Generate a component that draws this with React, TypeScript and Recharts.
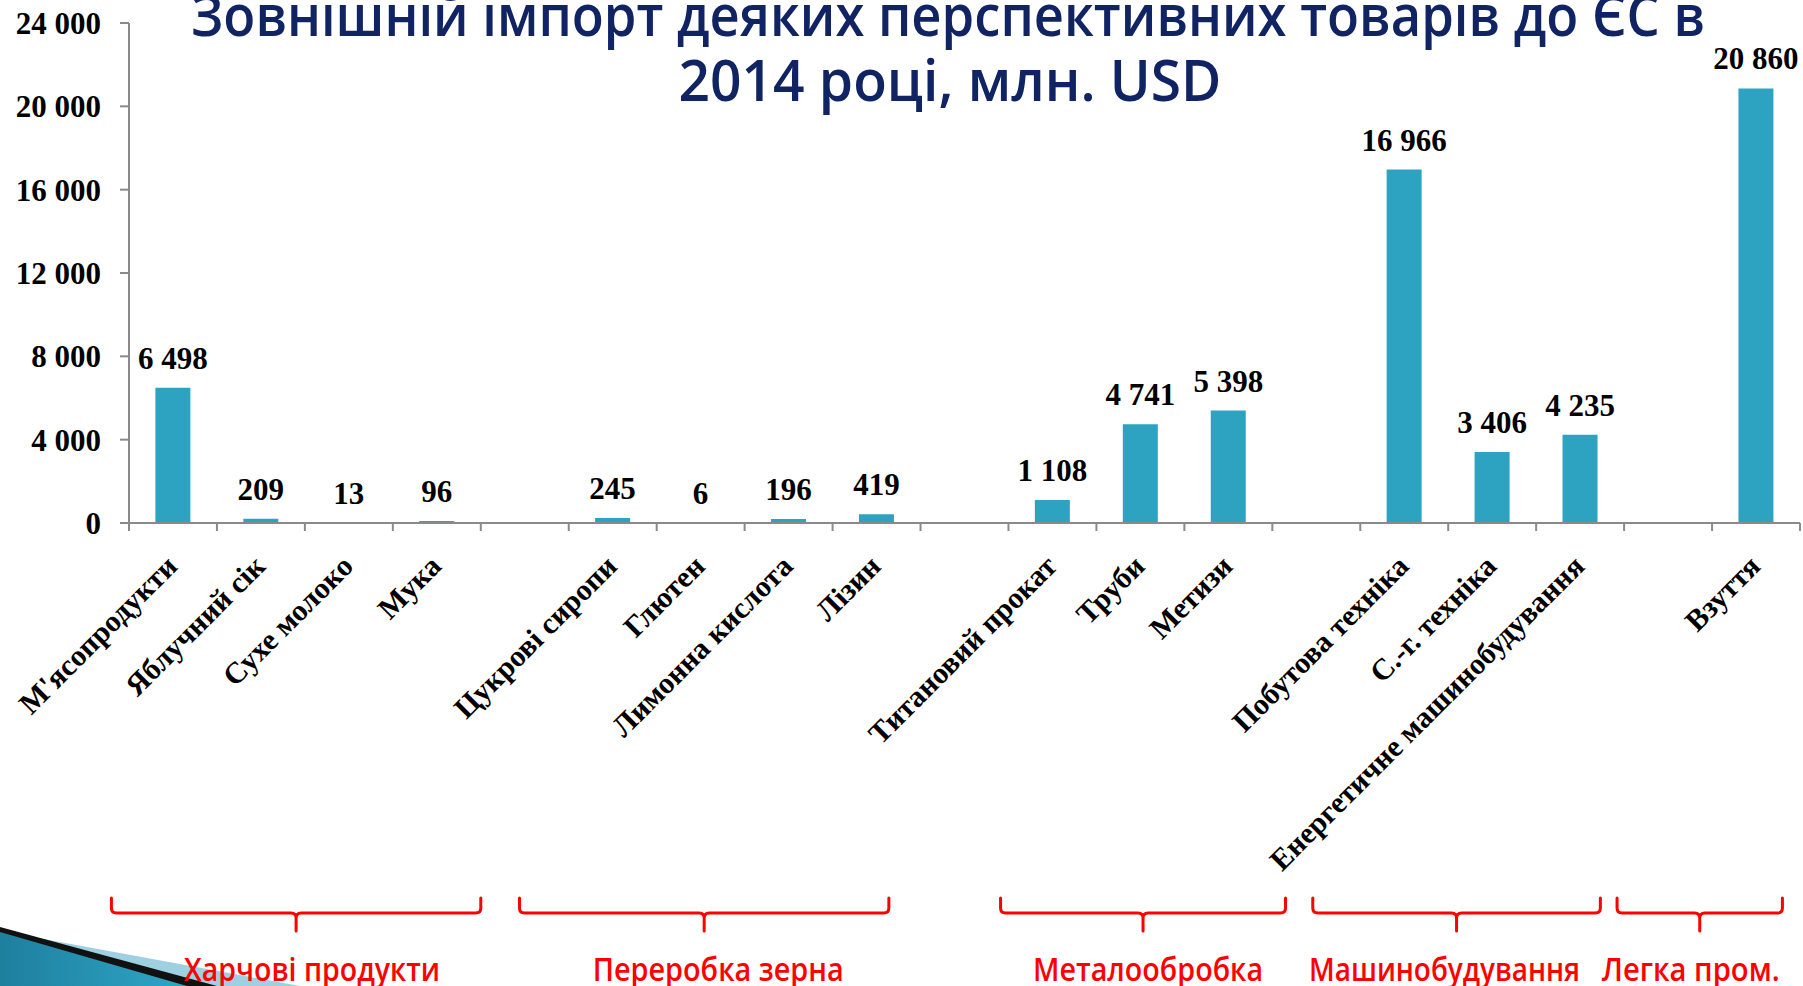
import React from "react";
import { BarChart, Bar, XAxis, YAxis } from "recharts";

// categories on the x axis (empty ones are the gaps between groups)
const categories = [
  "М'ясопродукти",
  "Яблучний сік",
  "Сухе молоко",
  "Мука",
  "",
  "Цукрові сиропи",
  "Глютен",
  "Лимонна кислота",
  "Лізин",
  "",
  "Титановий прокат",
  "Труби",
  "Метизи",
  "",
  "Побутова техніка",
  "С.-г. техніка",
  "Енергетичне машинобудування",
  "",
  "Взуття",
];

// import, mln USD
const values: (number | null)[] = [
  6498, 209, 13, 96, null, 245, 6, 196, 419, null, 1108, 4741, 5398, null, 16966, 3406, 4235, null, 20860,
];

const yTicks = [0, 4000, 8000, 12000, 16000, 20000, 24000];

// groups under the axis
const groupNames = ["Харчові продукти", "Переробка зерна", "Металообробка", "Машинобудування", "Легка пром."];
const groupFirst = [0, 5, 10, 14, 18];
// brace ends, in category-band units from the left of the plot
const braceFrom = [-0.2, 4.44, 9.91, 13.46, 16.92];
const braceTo = [4.0, 8.64, 13.15, 16.73, 18.8];
// label placement relative to the brace middle, and label widths
const labelShift = [16, 14, 5, -12, -9];
const labelWidth = [256, 251, 230, 271, 178];

const data = categories.map((name, i) => ({ name, value: values[i] }));

const W = 1803;
const H = 986;
const PLOT_LEFT = 129;
const PLOT_RIGHT = 1800;
const BAND = (PLOT_RIGHT - PLOT_LEFT) / categories.length;
const AXIS = "#8a8a8a";
const BAR = "#2DA3C1";
const SERIF = "'Liberation Serif', 'Times New Roman', serif";
const SANS = "'Open Sans', 'Noto Sans', sans-serif";

const fmt = (n: number) => String(n).replace(/\B(?=(\d{3})+(?!\d))/g, " ");

const XTick = (props: any) => {
  const { x, y, payload, index } = props;
  const half = payload && typeof payload.offset === "number" && payload.offset > 0 ? payload.offset : BAND / 2;
  const band = half * 2;
  const left = x - half;
  const label = payload ? payload.value : "";
  const g = groupFirst.indexOf(index);
  let brace = null;
  if (g >= 0) {
    const x1 = left + (braceFrom[g] - index) * band;
    const x2 = left + (braceTo[g] - index) * band;
    const xm = (x1 + x2) / 2;
    const yt = 898;
    const yh = 913;
    const yb = 931;
    const r = 5;
    const d =
      `M${x1},${yt} L${x1},${yh - r} Q${x1},${yh} ${x1 + r},${yh} L${xm - r},${yh} Q${xm},${yh} ${xm},${yh + r} L${xm},${yb} ` +
      `M${xm},${yh + r} Q${xm},${yh} ${xm + r},${yh} L${x2 - r},${yh} Q${x2},${yh} ${x2},${yh - r} L${x2},${yt}`;
    brace = (
      <g>
        <path d={d} fill="none" stroke="#FF0000" strokeWidth={3} strokeLinecap="round" />
        <text
          x={xm + labelShift[g]}
          y={981}
          textAnchor="middle"
          fontFamily={SANS}
          fontWeight={600}
          fontSize={33}
          fill="#FF0000"
          textLength={labelWidth[g]}
          lengthAdjust="spacingAndGlyphs"
        >
          {groupNames[g]}
        </text>
      </g>
    );
  }
  return (
    <g>
      <line x1={left} x2={left} y1={y} y2={y + 8} stroke={AXIS} strokeWidth={2} />
      {index === categories.length - 1 && (
        <line x1={x + half} x2={x + half} y1={y} y2={y + 8} stroke={AXIS} strokeWidth={2} />
      )}
      {label && (
        <text
          transform={`translate(${x + 6},${y + 45}) rotate(-45)`}
          textAnchor="end"
          fontFamily={SERIF}
          fontWeight="bold"
          fontSize={30}
          fill="#000"
        >
          {label}
        </text>
      )}
      {brace}
    </g>
  );
};

const renderValue = (props: any) => {
  const { x, y, width, value } = props;
  if (value === null || value === undefined) return null;
  return (
    <text
      x={x + width / 2}
      y={y - 19}
      textAnchor="middle"
      fontFamily={SERIF}
      fontWeight="bold"
      fontSize={31}
      fill="#000"
    >
      {fmt(value)}
    </text>
  );
};

export default function App() {
  return (
    <div style={{ position: "absolute", left: 0, top: 0, width: W, height: H, background: "#fff", overflow: "hidden" }}>
      {/* slide decoration, bottom left */}
      <svg width={W} height={H} style={{ position: "absolute", left: 0, top: 0 }}>
        <defs>
          <linearGradient id="swoosh" x1="0" y1="0" x2="1" y2="0">
            <stop offset="0" stopColor="#1E7F9F" />
            <stop offset="1" stopColor="#2FA6C6" />
          </linearGradient>
        </defs>
        <polygon points="0,931 300,986 0,986" fill="#9FD0E2" />
        <polygon points="0,927 217,986 0,986" fill="#111" />
        <polygon points="0,932 187,986 0,986" fill="url(#swoosh)" />
      </svg>
      <div style={{ position: "absolute", left: 0, top: 0 }}>
        <BarChart width={W} height={H} data={data} margin={{ top: 23, right: W - PLOT_RIGHT, left: 0, bottom: 403 }} barCategoryGap="30%">
          <YAxis
            width={PLOT_LEFT}
            domain={[0, 24000]}
            ticks={yTicks}
            interval={0}
            tickFormatter={fmt}
            axisLine={{ stroke: AXIS, strokeWidth: 2 }}
            tickLine={{ stroke: AXIS, strokeWidth: 2 }}
            tickSize={9}
            tickMargin={19}
            tick={{ fontFamily: SERIF, fontWeight: "bold", fontSize: 31, fill: "#000" }}
          />
          <XAxis
            dataKey="name"
            interval={0}
            height={60}
            tickLine={false}
            tickSize={0}
            tickMargin={0}
            axisLine={{ stroke: AXIS, strokeWidth: 2 }}
            tick={<XTick />}
          />
          <Bar dataKey="value" fill={BAR} isAnimationActive={false} label={renderValue} />
        </BarChart>
      </div>
      {/* slide title */}
      <svg width={W} height={H} style={{ position: "absolute", left: 0, top: 0, pointerEvents: "none" }}>
        <text x={948} y={36} textAnchor="middle" fontFamily={SANS} fontWeight={600} fontSize={57} fill="#102464" textLength={1514} lengthAdjust="spacingAndGlyphs">
          Зовнішній імпорт деяких перспективних товарів до ЄС в
        </text>
        <text x={950} y={101} textAnchor="middle" fontFamily={SANS} fontWeight={600} fontSize={57} fill="#102464" textLength={543} lengthAdjust="spacingAndGlyphs">
          2014 році, млн. USD
        </text>
      </svg>
    </div>
  );
}
